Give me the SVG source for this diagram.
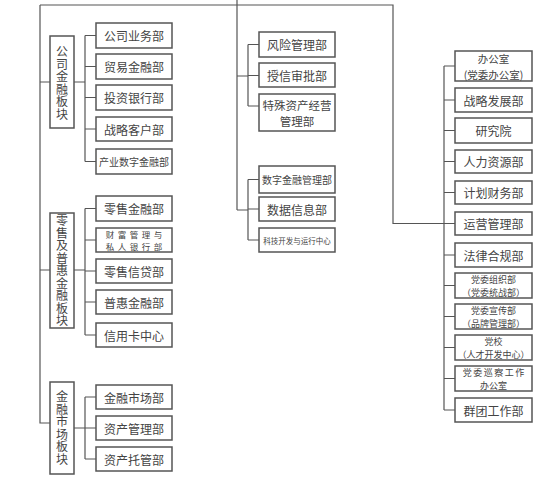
<svg xmlns="http://www.w3.org/2000/svg" width="550" height="487" viewBox="0 0 550 487">
<style>
.b{fill:#fff;stroke:#555;stroke-width:1.5}
.c{fill:none;stroke:#555;stroke-width:1.2}
text{font-family:"Noto Sans CJK SC","Noto Sans",sans-serif;fill:#444;text-anchor:middle;dominant-baseline:central;font-size:12px}
.v{writing-mode:vertical-rl;letter-spacing:0.5px}
.s{font-size:10px}
.t{font-size:9px}
.xs{font-size:7.5px}
</style>
<rect width="550" height="487" fill="#fff"/>
<g id="connectors" class="c">
<path d="M237 0V210M40 5H393V223.5H455M40 5V423H50"/>
<path d="M40 82H50M74 82H85M85 35.5V161.5M85 35.5H96M85 66.5H96M85 97.5H96M85 129H96M85 161.5H96"/>
<path d="M40 270H50M74 270H85M85 208.5V335M85 208.5H96M85 240H96M85 271H96M85 302H96M85 335H96"/>
<path d="M74 428H85M85 397V459M85 397H96M85 428H96M85 459H96"/>
<path d="M237 76H248M248 44.5V106M248 44.5H259M248 75.5H259M248 106H259"/>
<path d="M237 210H248M248 179.5V240M248 179.5H259M248 209H259M248 240H259"/>
<path d="M444 66V410M444 66H455M444 100H455M444 130.5H455M444 161.5H455M444 192.5H455M444 255H455M444 285.5H455M444 316.5H455M444 347.5H455M444 378.5H455M444 410H455"/>
</g>
<g id="blk1"><rect class="b" x="50" y="36" width="24" height="92"/><text class="v" x="62" y="83">公司金融板块</text></g>
<g id="blk2"><rect class="b" x="50" y="213" width="24" height="115"/><text class="v" x="62" y="271">零售及普惠金融板块</text></g>
<g id="blk3"><rect class="b" x="50" y="382" width="24" height="92"/><text class="v" x="62" y="428">金融市场板块</text></g>
<g id="n1"><rect class="b" x="96" y="23" width="76" height="25"/><text x="134" y="35.5">公司业务部</text></g>
<g id="n2"><rect class="b" x="96" y="54" width="76" height="25"/><text x="134" y="66.5">贸易金融部</text></g>
<g id="n3"><rect class="b" x="96" y="85" width="76" height="25"/><text x="134" y="97.5">投资银行部</text></g>
<g id="n4"><rect class="b" x="96" y="117" width="76" height="24"/><text x="134" y="129">战略客户部</text></g>
<g id="n5"><rect class="b" x="96" y="149" width="76" height="25"/><text class="s" x="134" y="161.5">产业数字金融部</text></g>
<g id="n6"><rect class="b" x="96" y="196" width="76" height="25"/><text x="134" y="208.5">零售金融部</text></g>
<g id="n7"><rect class="b" x="96" y="228" width="76" height="24"/><text style="font-size:8.5px;letter-spacing:3.5px"><tspan x="135.75" y="233.8">财富管理与</tspan><tspan x="135.75" y="246.2">私人银行部</tspan></text></g>
<g id="n8"><rect class="b" x="96" y="259" width="76" height="24"/><text x="134" y="271">零售信贷部</text></g>
<g id="n9"><rect class="b" x="96" y="290" width="76" height="24"/><text x="134" y="302">普惠金融部</text></g>
<g id="n10"><rect class="b" x="96" y="323" width="76" height="24"/><text x="134" y="335">信用卡中心</text></g>
<g id="n11"><rect class="b" x="96" y="385" width="76" height="24"/><text x="134" y="397">金融市场部</text></g>
<g id="n12"><rect class="b" x="96" y="416" width="76" height="24"/><text x="134" y="428">资产管理部</text></g>
<g id="n13"><rect class="b" x="96" y="447" width="76" height="24"/><text x="134" y="459">资产托管部</text></g>
<g id="m1"><rect class="b" x="259" y="32" width="76" height="25"/><text x="297" y="44.5">风险管理部</text></g>
<g id="m2"><rect class="b" x="259" y="63" width="76" height="24"/><text x="297" y="75">授信审批部</text></g>
<g id="m3"><rect class="b" x="259" y="94" width="76" height="37"/><text style="font-size:11.5px"><tspan x="297" y="104.5">特殊资产经营</tspan><tspan x="297" y="121.3">管理部</tspan></text></g>
<g id="m4"><rect class="b" x="259" y="166" width="76" height="27"/><text class="s" x="297" y="179.5">数字金融管理部</text></g>
<g id="m5"><rect class="b" x="259" y="197" width="76" height="24"/><text x="297" y="209">数据信息部</text></g>
<g id="m6"><rect class="b" x="259" y="228" width="76" height="24"/><text class="xs" x="297" y="240">科技开发与运行中心</text></g>
<g id="r1"><rect class="b" x="455" y="51" width="77" height="30"/><text style="font-size:10.5px"><tspan x="493.5" y="58.3">办公室</tspan><tspan x="493.5" y="73.7">(党委办公室)</tspan></text></g>
<g id="r2"><rect class="b" x="455" y="88" width="77" height="24"/><text x="493.5" y="100">战略发展部</text></g>
<g id="r3"><rect class="b" x="455" y="118" width="77" height="25"/><text x="493.5" y="130.5">研究院</text></g>
<g id="r4"><rect class="b" x="455" y="150" width="77" height="23"/><text x="493.5" y="161.5">人力资源部</text></g>
<g id="r5"><rect class="b" x="455" y="181" width="77" height="23"/><text x="493.5" y="192.5">计划财务部</text></g>
<g id="r6"><rect class="b" x="455" y="212" width="77" height="23"/><text x="493.5" y="223.5">运营管理部</text></g>
<g id="r7"><rect class="b" x="455" y="243" width="77" height="24"/><text x="493.5" y="255">法律合规部</text></g>
<g id="r8"><rect class="b" x="455" y="273" width="77" height="25"/><text class="t"><tspan x="493.5" y="278.9">党委组织部</tspan><tspan x="493.5" y="292.1">（党委统战部）</tspan></text></g>
<g id="r9"><rect class="b" x="455" y="304" width="77" height="25"/><text class="t"><tspan x="493.5" y="309.9">党委宣传部</tspan><tspan x="493.5" y="323.1">（品牌管理部）</tspan></text></g>
<g id="r10"><rect class="b" x="455" y="335" width="77" height="25"/><text class="t"><tspan x="493.5" y="340.9">党校</tspan><tspan x="493.5" y="354.1">（人才开发中心）</tspan></text></g>
<g id="r11"><rect class="b" x="455" y="366" width="77" height="25"/><text class="t"><tspan x="494.25" y="371.9" style="letter-spacing:1.5px">党委巡察工作</tspan><tspan x="493.5" y="385.1">办公室</tspan></text></g>
<g id="r12"><rect class="b" x="455" y="398" width="77" height="24"/><text x="493.5" y="410">群团工作部</text></g>
</svg>
